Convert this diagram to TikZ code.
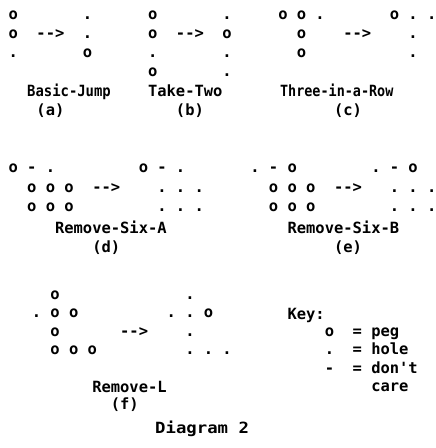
\documentclass[tikz,border=0pt]{standalone}
\usepackage{fontspec}
\setmonofont{DejaVu Sans Mono}
\begin{document}
\begin{tikzpicture}[x=1pt, y=-1pt,
  ch/.style={inner sep=0pt, anchor=base west, font=\ttfamily\bfseries\fontsize{15.45}{18}\selectfont}]
\def\xo{8.35} \def\pw{9.3} % grid origin, pitch
\useasboundingbox (0,0) rectangle (436,448);
% Basic-Jump
\foreach \c/\y/\s [count=\i] in {0/19/o, 0/38/o, 0/57/., 3/38/-{}-{}>, 8/19/., 8/38/., 8/57/o}
  \node[ch] (a\i) at ({\xo+\pw*\c},\y) {\s};
% Take-Two
\foreach \c/\y/\s [count=\i] in {15/19/o, 15/38/o, 15/57/., 15/76/o, 18/38/-{}-{}>,
    23/19/., 23/38/o, 23/57/., 23/76/.}
  \node[ch] (b\i) at ({\xo+\pw*\c},\y) {\s};
% Three-in-a-Row
\foreach \c/\y/\s [count=\i] in {29/19/o, 31/19/o, 33/19/., 31/38/o, 31/57/o, 36/38/-{}-{}>,
    41/19/o, 43/19/., 45/19/., 43/38/., 43/57/.}
  \node[ch] (c\i) at ({\xo+\pw*\c},\y) {\s};
\node[ch] (nameA) at ({\xo+\pw*2},96) {\scalebox{0.9}[1]{Basic-Jump}};
\node[ch] (tagA) at ({\xo+\pw*3},115) {(a)};
\node[ch] (nameB) at ({\xo+\pw*15},96) {Take-Two};
\node[ch] (tagB) at ({\xo+\pw*18},115) {(b)};
\node[ch] (nameC) at ({\xo+\pw*29.2},96) {\scalebox{0.87}[1]{Three-in-a-Row}};
\node[ch] (tagC) at ({\xo+\pw*35},115) {(c)};
% Remove-Six-A
\foreach \c/\y/\s [count=\i] in {0/172/o, 2/172/-, 4/172/., 2/192/o, 4/192/o, 6/192/o,
    2/211/o, 4/211/o, 6/211/o, 9/192/-{}-{}>,
    14/172/o, 16/172/-, 18/172/., 16/192/., 18/192/., 20/192/., 16/211/., 18/211/., 20/211/.}
  \node[ch] (d\i) at ({\xo+\pw*\c},\y) {\s};
% Remove-Six-B
\foreach \c/\y/\s [count=\i] in {26/172/., 28/172/-, 30/172/o, 28/192/o, 30/192/o, 32/192/o,
    28/211/o, 30/211/o, 32/211/o, 35/192/-{}-{}>,
    39/172/., 41/172/-, 43/172/o, 41/192/., 43/192/., 45/192/., 41/211/., 43/211/., 45/211/.}
  \node[ch] (e\i) at ({\xo+\pw*\c},\y) {\s};
\node[ch] (nameD) at ({\xo+\pw*5},233) {Remove-Six-A};
\node[ch] (tagD) at ({\xo+\pw*9},252) {(d)};
\node[ch] (nameE) at ({\xo+\pw*30},233) {Remove-Six-B};
\node[ch] (tagE) at ({\xo+\pw*35},252) {(e)};
% Remove-L
\foreach \c/\y/\s [count=\i] in {4.5/299/o, 2.5/317/., 4.5/317/o, 6.5/317/o, 4.5/336/o,
    4.5/354/o, 6.5/354/o, 8.5/354/o, 12/336/-{}-{}>,
    19/299/., 17/317/., 19/317/., 21/317/o, 19/336/., 19/354/., 21/354/., 23/354/.}
  \node[ch] (f\i) at ({\xo+\pw*\c},\y) {\s};
\node[ch] (nameF) at ({\xo+\pw*9},392) {Remove-L};
\node[ch] (tagF) at ({\xo+\pw*11},409) {(f)};
% key
\node[ch] (key) at ({\xo+\pw*30},319) {Key:};
\foreach \y/\s/\t [count=\i] in {336/o/peg, 354/./hole, 373/-/don't} {
  \node[ch] (sym\i) at ({\xo+\pw*34},\y) {\s};
  \node[ch] (eq\i) at ({\xo+\pw*37},\y) {=};
  \node[ch] (mean\i) at ({\xo+\pw*39},\y) {\t};
}
\node[ch] (care) at ({\xo+\pw*39},391) {care};
\node[ch] (title) at (155,433) {\scalebox{1.12}[1]{Diagram 2}};
\end{tikzpicture}
\end{document}
